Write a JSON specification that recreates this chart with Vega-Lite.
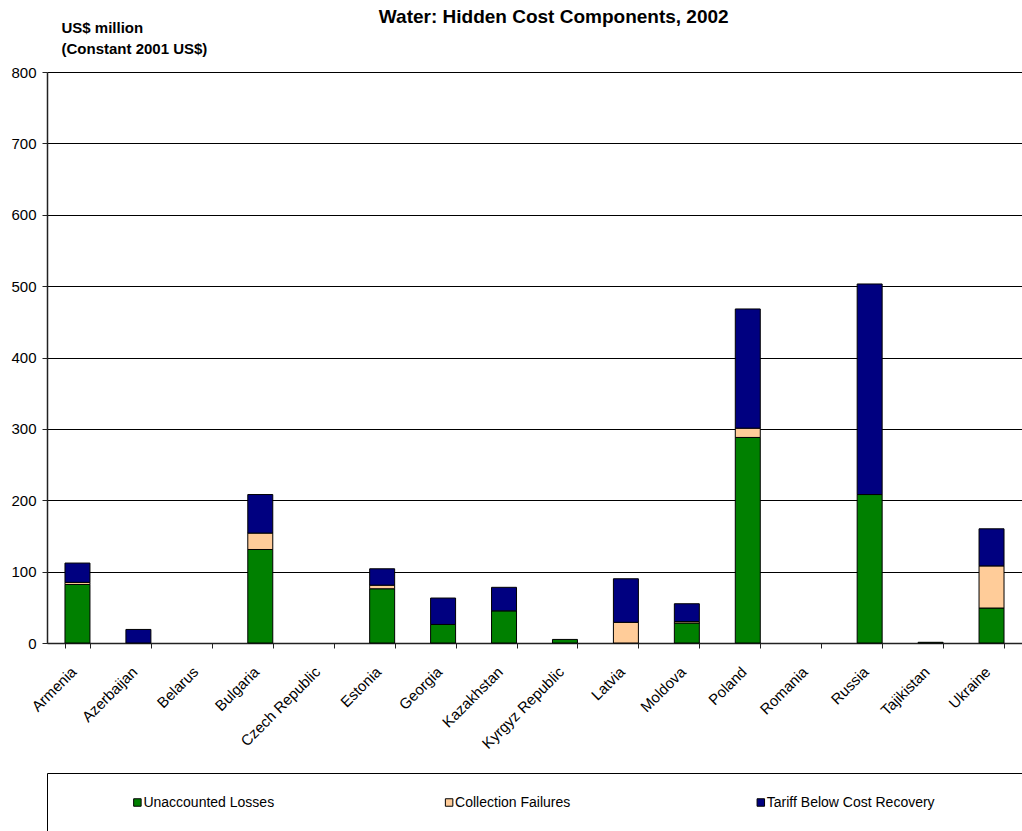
{
  "$schema": "https://vega.github.io/schema/vega-lite/v6.json",
  "padding": {"left": 10, "top": 8, "right": 0, "bottom": 0},
  "background": "white",
  "spacing": 20,
  "title": {
    "text": "Water: Hidden Cost Components, 2002",
    "font": "Liberation Sans",
    "fontSize": 19,
    "fontWeight": "bold",
    "color": "black",
    "anchor": "middle",
    "dx": 32,
    "offset": -7
  },
  "config": {
    "font": "Liberation Sans",
    "view": {"stroke": null},
    "axis": {"labelColor": "black", "titleColor": "black", "domainColor": "#222222", "tickColor": "#222222"}
  },
  "datasets": {
    "costs": [
      {"country": "Armenia", "series": "Unaccounted Losses", "value": 82},
      {"country": "Armenia", "series": "Collection Failures", "value": 3},
      {"country": "Armenia", "series": "Tariff Below Cost Recovery", "value": 27},
      {"country": "Azerbaijan", "series": "Tariff Below Cost Recovery", "value": 19},
      {"country": "Bulgaria", "series": "Unaccounted Losses", "value": 131},
      {"country": "Bulgaria", "series": "Collection Failures", "value": 23},
      {"country": "Bulgaria", "series": "Tariff Below Cost Recovery", "value": 54},
      {"country": "Estonia", "series": "Unaccounted Losses", "value": 76},
      {"country": "Estonia", "series": "Collection Failures", "value": 5},
      {"country": "Estonia", "series": "Tariff Below Cost Recovery", "value": 23},
      {"country": "Georgia", "series": "Unaccounted Losses", "value": 26},
      {"country": "Georgia", "series": "Tariff Below Cost Recovery", "value": 37},
      {"country": "Kazakhstan", "series": "Unaccounted Losses", "value": 45},
      {"country": "Kazakhstan", "series": "Tariff Below Cost Recovery", "value": 33},
      {"country": "Kyrgyz Republic", "series": "Unaccounted Losses", "value": 5},
      {"country": "Latvia", "series": "Collection Failures", "value": 29},
      {"country": "Latvia", "series": "Tariff Below Cost Recovery", "value": 61},
      {"country": "Moldova", "series": "Unaccounted Losses", "value": 28},
      {"country": "Moldova", "series": "Collection Failures", "value": 2},
      {"country": "Moldova", "series": "Tariff Below Cost Recovery", "value": 25},
      {"country": "Poland", "series": "Unaccounted Losses", "value": 288},
      {"country": "Poland", "series": "Collection Failures", "value": 13},
      {"country": "Poland", "series": "Tariff Below Cost Recovery", "value": 167},
      {"country": "Russia", "series": "Unaccounted Losses", "value": 208},
      {"country": "Russia", "series": "Tariff Below Cost Recovery", "value": 295},
      {"country": "Tajikistan", "series": "Unaccounted Losses", "value": 1},
      {"country": "Ukraine", "series": "Unaccounted Losses", "value": 49},
      {"country": "Ukraine", "series": "Collection Failures", "value": 59},
      {"country": "Ukraine", "series": "Tariff Below Cost Recovery", "value": 52}
    ],
    "keys": [
      {"series": "Unaccounted Losses", "rank": 1},
      {"series": "Collection Failures", "rank": 2},
      {"series": "Tariff Below Cost Recovery", "rank": 3}
    ]
  },
  "vconcat": [
    {
      "width": 975,
      "height": 571,
      "data": {"name": "costs"},
      "transform": [
        {"lookup": "series", "from": {"data": {"name": "keys"}, "key": "series", "fields": ["rank"]}}
      ],
      "mark": {"type": "bar", "stroke": "black", "strokeWidth": 1},
      "encoding": {
        "x": {
          "field": "country",
          "type": "nominal",
          "scale": {
            "domain": ["Armenia", "Azerbaijan", "Belarus", "Bulgaria", "Czech Republic", "Estonia", "Georgia", "Kazakhstan", "Kyrgyz Republic", "Latvia", "Moldova", "Poland", "Romania", "Russia", "Tajikistan", "Ukraine"],
            "paddingInner": 0.59,
            "paddingOuter": 0.295
          },
          "axis": {
            "title": null,
            "labelAngle": -45,
            "labelFontSize": 15,
            "tickBand": "extent",
            "tickSize": 5,
            "labelPadding": 16,
            "labelOffset": -9,
            "domainWidth": 1.5
          }
        },
        "y": {
          "field": "value",
          "type": "quantitative",
          "aggregate": "sum",
          "stack": "zero",
          "scale": {"domain": [0, 800], "nice": false},
          "axis": {
            "values": [0, 100, 200, 300, 400, 500, 600, 700, 800],
            "grid": true,
            "gridColor": "black",
            "gridOpacity": 1,
            "gridWidth": 1,
            "labelFontSize": 15,
            "labelPadding": 6,
            "tickSize": 5,
            "domainWidth": 1.5,
            "title": ["US$ million", "(Constant 2001 US$)"],
            "titleAngle": 0,
            "titleAlign": "left",
            "titleBaseline": "alphabetic",
            "titleFontSize": 15,
            "titleFontWeight": "bold",
            "titleLineHeight": 21,
            "titleX": 14,
            "titleY": -40
          }
        },
        "color": {
          "field": "series",
          "type": "nominal",
          "scale": {
            "domain": ["Unaccounted Losses", "Collection Failures", "Tariff Below Cost Recovery"],
            "range": ["#008000", "#FFCC99", "#000080"]
          },
          "legend": null
        },
        "order": {"field": "rank", "type": "quantitative", "sort": "ascending"}
      }
    },
    {
      "width": 985,
      "height": 59,
      "data": {"name": "keys"},
      "view": {"stroke": "black", "strokeWidth": 1},
      "encoding": {
        "x": {
          "field": "series",
          "type": "nominal",
          "sort": ["Unaccounted Losses", "Collection Failures", "Tariff Below Cost Recovery"],
          "scale": {"type": "point", "padding": 0.58, "align": 0.25},
          "axis": null
        }
      },
      "layer": [
        {
          "mark": {"type": "point", "shape": "square", "filled": true, "size": 56, "stroke": "black", "strokeWidth": 1, "opacity": 1},
          "encoding": {
            "color": {
              "field": "series",
              "type": "nominal",
              "scale": {
                "domain": ["Unaccounted Losses", "Collection Failures", "Tariff Below Cost Recovery"],
                "range": ["#008000", "#FFCC99", "#000080"]
              },
              "legend": null
            }
          }
        },
        {
          "mark": {"type": "text", "align": "left", "baseline": "middle", "dx": 6, "fontSize": 14, "color": "black"},
          "encoding": {"text": {"field": "series"}}
        }
      ]
    }
  ]
}
